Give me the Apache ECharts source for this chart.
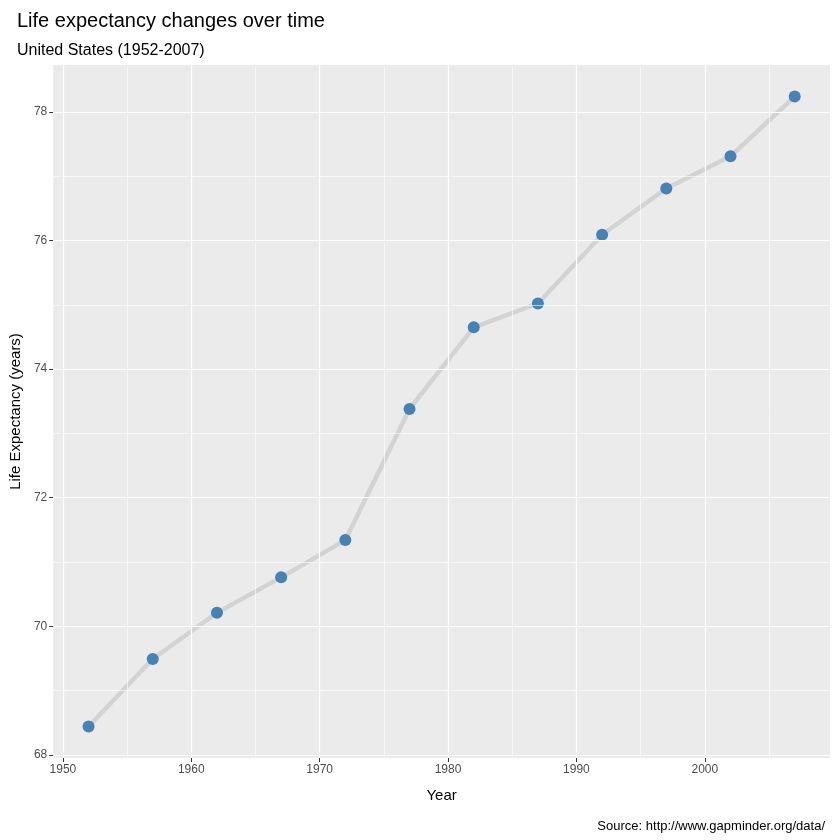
<!DOCTYPE html>
<html>
<head>
<meta charset="utf-8">
<script src="https://cdn.jsdelivr.net/npm/echarts@6/dist/echarts.min.js"></script>
<style>html,body{margin:0;background:#fff}#c{width:840px;height:840px}</style>
</head>
<body>
<div id="c"></div>
<script>
// data
const years = [1952, 1957, 1962, 1967, 1972, 1977, 1982, 1987, 1992, 1997, 2002, 2007];
const lifeExp = [68.44, 69.49, 70.21, 70.76, 71.34, 73.38, 74.65, 75.02, 76.09, 76.81, 77.31, 78.24];
const xTicks = [1950, 1960, 1970, 1980, 1990, 2000];
const xMinor = [1955, 1965, 1975, 1985, 1995, 2005];
const yTicks = [68, 70, 72, 74, 76, 78];
const yMinor = [69, 71, 73, 75, 77];

const gridLine = (arr, key, w) => arr.map(v => ({ [key]: v, lineStyle: { color: '#fff', width: w, type: 'solid' } }));

const chart = echarts.init(document.getElementById('c'));
chart.setOption({
  animation: false,
  title: [
    { text: 'Life expectancy changes over time', left: 12, top: 6,
      textStyle: { fontFamily: 'Arial, Liberation Sans', fontSize: 20, fontWeight: 'normal', color: '#000' } },
    { text: 'United States (1952-2007)', left: 12, top: 38,
      textStyle: { fontFamily: 'Arial, Liberation Sans', fontSize: 16, fontWeight: 'normal', color: '#000' } },
    { text: 'Source: http://www.gapminder.org/data/', right: 10, top: 815,
      textStyle: { fontFamily: 'Arial, Liberation Sans', fontSize: 13, fontWeight: 'normal', color: '#000' } }
  ],
  grid: { left: 42, right: 10, top: 65, bottom: 82, show: true, backgroundColor: '#EBEBEB', borderWidth: 0 },
  xAxis: {
    type: 'value', min: 1949.25, max: 2009.75,
    name: 'Year', nameLocation: 'middle', nameGap: 30,
    nameTextStyle: { fontFamily: 'Arial, Liberation Sans', fontSize: 15, color: '#000' },
    axisLine: { show: false },
    axisTick: { show: true, customValues: xTicks, length: 4, lineStyle: { color: '#333' } },
    axisLabel: { customValues: xTicks, formatter: v => String(v), color: '#4D4D4D', fontSize: 12, fontFamily: 'Arial, Liberation Sans', margin: 6 },
    splitLine: { show: false }
  },
  yAxis: {
    type: 'value', min: 67.95, max: 78.73,
    name: 'Life Expectancy (years)', nameLocation: 'middle', nameGap: 26,
    nameTextStyle: { fontFamily: 'Arial, Liberation Sans', fontSize: 15, color: '#000' },
    axisLine: { show: false },
    axisTick: { show: true, customValues: yTicks, length: 4, lineStyle: { color: '#333' } },
    axisLabel: { customValues: yTicks, formatter: v => String(v), color: '#4D4D4D', fontSize: 12, fontFamily: 'Arial, Liberation Sans', margin: 6 },
    splitLine: { show: false }
  },
  series: [
    {
      type: 'line', data: [], silent: true, z: 1,
      markLine: {
        silent: true, symbol: 'none', label: { show: false }, animation: false,
        data: [].concat(
          gridLine(xMinor, 'xAxis', 0.6), gridLine(yMinor, 'yAxis', 0.6),
          gridLine(xTicks, 'xAxis', 1.2), gridLine(yTicks, 'yAxis', 1.2))
      }
    },
    {
      type: 'line', z: 3,
      data: years.map((y, i) => [y, lifeExp[i]]),
      lineStyle: { color: '#D3D3D3', width: 4.5 },
      symbol: 'circle', symbolSize: 12,
      itemStyle: { color: '#4682B4', borderWidth: 0 }
    }
  ]
});
</script>
</body>
</html>
